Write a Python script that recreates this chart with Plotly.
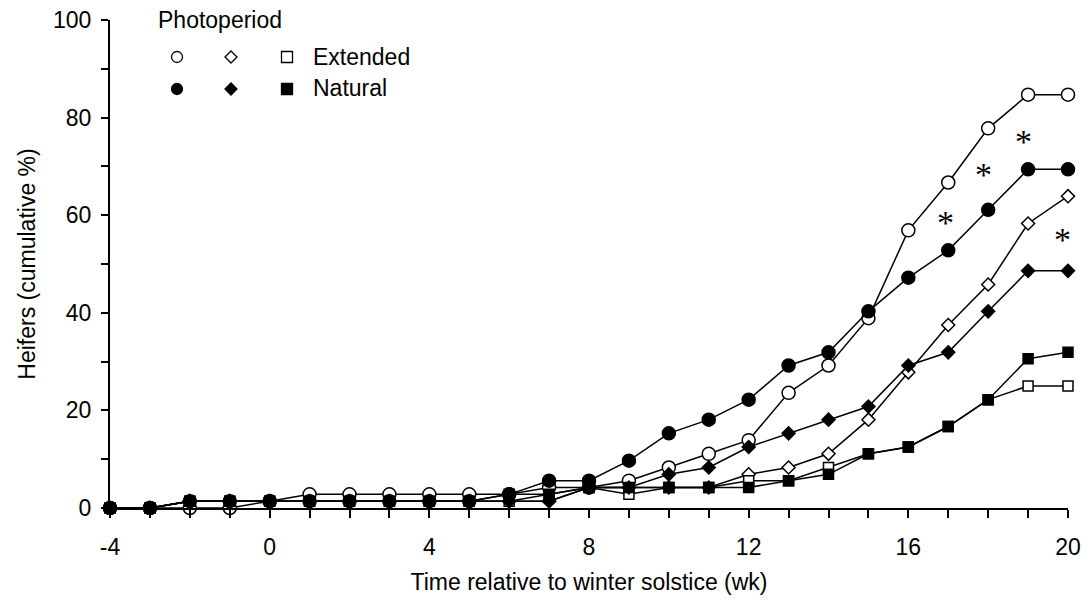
import plotly.graph_objects as go

weeks = list(range(-4, 21))

ext_circle = [0, 0, 0, 0, 1.4, 2.8, 2.8, 2.8, 2.8, 2.8, 2.8, 4.2, 4.2, 5.6, 8.3, 11.1, 13.9, 23.6, 29.2, 38.9, 56.9, 66.7, 77.8, 84.7, 84.7]
nat_circle = [0, 0, 1.4, 1.4, 1.4, 1.4, 1.4, 1.4, 1.4, 1.4, 2.8, 5.6, 5.6, 9.7, 15.3, 18.1, 22.2, 29.2, 31.9, 40.3, 47.2, 52.8, 61.1, 69.4, 69.4]
ext_diamond = [0, 0, 1.4, 1.4, 1.4, 1.4, 1.4, 1.4, 1.4, 1.4, 1.4, 1.4, 4.2, 4.2, 4.2, 4.2, 6.9, 8.3, 11.1, 18.1, 27.8, 37.5, 45.8, 58.3, 63.9]
nat_diamond = [0, 0, 1.4, 1.4, 1.4, 1.4, 1.4, 1.4, 1.4, 1.4, 1.4, 1.4, 4.2, 4.2, 6.9, 8.3, 12.5, 15.3, 18.1, 20.8, 29.2, 31.9, 40.3, 48.6, 48.6]
ext_square = [0, 0, 1.4, 1.4, 1.4, 1.4, 1.4, 1.4, 1.4, 1.4, 1.4, 2.8, 4.2, 2.8, 4.2, 4.2, 5.6, 5.6, 8.3, 11.1, 12.5, 16.7, 22.2, 25.0, 25.0]
nat_square = [0, 0, 1.4, 1.4, 1.4, 1.4, 1.4, 1.4, 1.4, 1.4, 2.8, 2.8, 4.2, 4.2, 4.2, 4.2, 4.2, 5.6, 6.9, 11.1, 12.5, 16.7, 22.2, 30.6, 31.9]

# significance markers (week, %)
star_x = [16.93, 17.88, 18.88, 19.86]
star_y = [60.0, 69.7, 76.6, 56.4]

x_ticks = [-4, 0, 4, 8, 12, 16, 20]
y_ticks = [0, 20, 40, 60, 80, 100]

FONT = "Liberation Sans, Arial, sans-serif"

fig = go.Figure()

def add(y, symbol, size, filled):
    fig.add_trace(go.Scatter(
        x=weeks, y=y, mode="lines+markers",
        line=dict(color="black", width=1.5),
        marker=dict(symbol=symbol, size=size,
                    color="black" if filled else "white",
                    line=dict(color="black", width=1.5)),
        showlegend=False, cliponaxis=False, hoverinfo="skip"))

add(ext_diamond, "diamond", 10, False)
add(ext_square, "square", 10, False)
add(ext_circle, "circle", 13, False)
add(nat_square, "square", 10, True)
add(nat_diamond, "diamond", 10, True)
add(nat_circle, "circle", 13, True)

for sx, sy in zip(star_x, star_y):
    fig.add_annotation(x=sx, y=sy, text="*", showarrow=False, yshift=-7,
                       font=dict(family="Liberation Serif, Times New Roman, serif", size=34, color="black"),
                       xanchor="center", yanchor="middle")

PLOT_L, PLOT_R, PLOT_T, PLOT_B = 110, 1068, 20, 508   # pixels of the plot area
W, H = float(PLOT_R - PLOT_L), float(PLOT_B - PLOT_T)
def px(x):
    return (x - PLOT_L) / W
def py(y):
    return (PLOT_B - y) / H

# manual legend
fig.add_annotation(xref="paper", yref="paper", x=px(156), y=py(20), text="Photoperiod",
                   showarrow=False, xanchor="left", yanchor="middle",
                   font=dict(family=FONT, size=23, color="black"))
fig.add_annotation(xref="paper", yref="paper", x=px(311), y=py(57), text="Extended",
                   showarrow=False, xanchor="left", yanchor="middle",
                   font=dict(family=FONT, size=23, color="black"))
fig.add_annotation(xref="paper", yref="paper", x=px(311), y=py(88), text="Natural",
                   showarrow=False, xanchor="left", yanchor="middle",
                   font=dict(family=FONT, size=23, color="black"))

rows = [(57, "white"), (89, "black")]
for ry, fill in rows:
    cy = py(ry)
    fig.add_shape(type="circle", xref="paper", yref="paper", xsizemode="pixel", ysizemode="pixel",
                  xanchor=px(177), yanchor=cy, x0=-5.5, x1=5.5, y0=-5.5, y1=5.5,
                  fillcolor=fill, line=dict(color="black", width=1.3))
    fig.add_shape(type="path", xref="paper", yref="paper", xsizemode="pixel", ysizemode="pixel",
                  xanchor=px(231), yanchor=cy, path="M -6 0 L 0 6 L 6 0 L 0 -6 Z",
                  fillcolor=fill, line=dict(color="black", width=1.3))
    fig.add_shape(type="rect", xref="paper", yref="paper", xsizemode="pixel", ysizemode="pixel",
                  xanchor=px(287), yanchor=cy, x0=-5.5, x1=5.5, y0=-5.5, y1=5.5,
                  fillcolor=fill, line=dict(color="black", width=1.3))

FIG_W, FIG_H = 1083, 603
fig.update_layout(
    width=FIG_W, height=FIG_H,
    margin=dict(l=PLOT_L, r=FIG_W - PLOT_R, t=PLOT_T, b=FIG_H - PLOT_B, pad=0),
    paper_bgcolor="white", plot_bgcolor="white",
    font=dict(family=FONT, size=23, color="black"),
    showlegend=False,
)
fig.update_xaxes(
    range=[-4, 20], tickvals=x_ticks, ticktext=[str(v) for v in x_ticks],
    showgrid=False, zeroline=False, showline=True, linecolor="black", linewidth=2,
    ticks="outside", ticklen=8, tickwidth=1.5, tickcolor="black",
    minor=dict(dtick=1, tick0=0, ticks="outside", ticklen=8, tickwidth=1.5, tickcolor="black", showgrid=False),
    title=dict(text="Time relative to winter solstice (wk)", standoff=15, font=dict(size=23)),
    tickfont=dict(size=23), ticklabelstandoff=9, ticklabeloverflow="allow", automargin=False,
)
fig.update_yaxes(
    range=[0, 100], tickvals=y_ticks, ticktext=[str(v) for v in y_ticks],
    showgrid=False, zeroline=False, showline=True, linecolor="black", linewidth=2,
    ticks="outside", ticklen=7, tickwidth=1.5, tickcolor="black",
    minor=dict(dtick=10, tick0=0, ticks="outside", ticklen=7, tickwidth=1.5, tickcolor="black", showgrid=False),
    title=dict(text="Heifers (cumulative %)", standoff=11, font=dict(size=23)),
    tickfont=dict(size=23), ticklabelstandoff=5, ticklabeloverflow="allow", automargin=False,
)

fig.write_html(
    "out.html",
    config={"displayModeBar": False},
    post_script="document.body.style.margin='0px';document.body.style.padding='0px';document.body.style.overflow='hidden';",
)
